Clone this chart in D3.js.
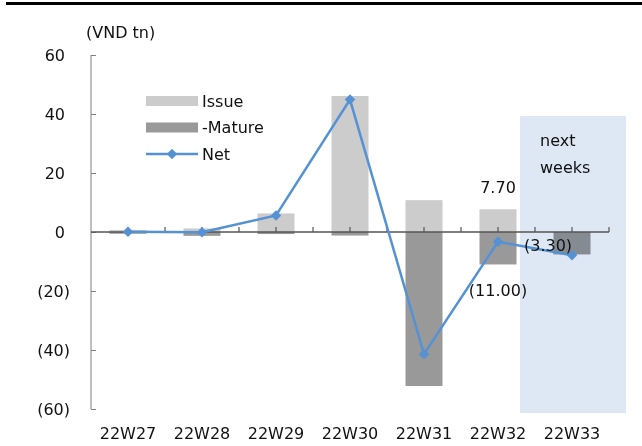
<!DOCTYPE html>
<html>
<head>
<meta charset="utf-8">
<script src="https://cdn.jsdelivr.net/npm/d3@7"></script>
<style>
  body { margin: 0; background: #fff; }
  text { font-family: "DejaVu Sans", sans-serif; font-size: 16px; fill: #111; }
</style>
</head>
<body>
<div id="chart"></div>
<script>
const weeks = ["22W27", "22W28", "22W29", "22W30", "22W31", "22W32", "22W33"];
const issue = [0.7, 1.2, 6.3, 46.1, 10.8, 7.7, 0];
const mature = [-0.6, -1.3, -0.7, -1.2, -52.2, -11.0, -7.6];
const net = [0.1, -0.1, 5.6, 44.9, -41.4, -3.3, -7.9];
const yTicks = [-60, -40, -20, 0, 20, 40, 60];
const forecastWeeks = ["22W33"];

const width = 642, height = 446;

const svg = d3.select("#chart")
  .append("svg")
  .attr("width", width)
  .attr("height", height);

// top rule
svg.append("rect")
  .attr("x", 6).attr("y", 2)
  .attr("width", 636).attr("height", 3)
  .attr("fill", "#000");

const x = d3.scaleBand()
  .domain(weeks)
  .range([91, 609]);

const y = d3.scaleLinear()
  .domain([-60, 60])
  .range([409, 55]);

const barW = x.bandwidth() / 2;
const cx = d => x(d) + x.bandwidth() / 2;

// bars
svg.selectAll(".issue")
  .data(weeks)
  .enter()
  .append("rect")
  .attr("class", "issue")
  .attr("x", d => cx(d) - barW / 2)
  .attr("width", barW)
  .attr("y", (d, i) => y(Math.max(0, issue[i])))
  .attr("height", (d, i) => Math.abs(y(issue[i]) - y(0)))
  .attr("fill", "#cccccc");

svg.selectAll(".mature")
  .data(weeks)
  .enter()
  .append("rect")
  .attr("class", "mature")
  .attr("x", d => cx(d) - barW / 2)
  .attr("width", barW)
  .attr("y", y(0))
  .attr("height", (d, i) => Math.abs(y(mature[i]) - y(0)))
  .attr("fill", "#999999");

// next weeks shade
const fx0 = x(forecastWeeks[0]) - 15;
svg.append("rect")
  .attr("x", fx0)
  .attr("y", 116)
  .attr("width", 626 - fx0)
  .attr("height", 297)
  .attr("fill", "#dde8f4")
  .style("mix-blend-mode", "multiply");

svg.append("text").attr("x", 540).attr("y", 146).text("next");
svg.append("text").attr("x", 540).attr("y", 173).text("weeks");

// y axis
const yAxis = d3.axisLeft(y)
  .tickValues(yTicks)
  .tickSize(-5)
  .tickPadding(0)
  .tickFormat(d => d < 0 ? `(${-d})` : `${d}`);

const gy = svg.append("g")
  .attr("transform", "translate(91,0)")
  .call(yAxis);
gy.select(".domain").attr("stroke", "#808080").attr("d", "M0,55V409");
gy.selectAll(".tick line").attr("stroke", "#808080");
gy.selectAll(".tick text")
  .attr("x", d => d < 0 ? -21 : -26)
  .attr("dy", "0.35em")
  .style("font-family", "DejaVu Sans")
  .style("font-size", "16px")
  .attr("fill", "#111");

svg.append("text")
  .attr("x", 86).attr("y", 38)
  .text("(VND tn)");

// x axis at zero
const halfTicks = [];
weeks.forEach(w => { halfTicks.push(x(w) + x.bandwidth() / 2, x(w) + x.bandwidth()); });
svg.append("g")
  .selectAll("line")
  .data(halfTicks)
  .enter()
  .append("line")
  .attr("x1", d => d).attr("x2", d => d)
  .attr("y1", y(0)).attr("y2", y(0) - 5)
  .attr("stroke", "#555")
  .attr("stroke-width", 1.2);

svg.append("line")
  .attr("x1", 91).attr("x2", 609)
  .attr("y1", y(0)).attr("y2", y(0))
  .attr("stroke", "#555")
  .attr("stroke-width", 1.5);

// x labels
svg.selectAll(".xlab")
  .data(weeks)
  .enter()
  .append("text")
  .attr("class", "xlab")
  .attr("x", d => cx(d))
  .attr("y", 439)
  .attr("text-anchor", "middle")
  .text(d => d);

// net line
const line = d3.line()
  .x((d, i) => cx(weeks[i]))
  .y(d => y(d));

svg.append("path")
  .datum(net)
  .attr("d", line)
  .attr("fill", "none")
  .attr("stroke", "#5592d4")
  .attr("stroke-width", 2.5);

const diamond = d3.symbol().type(d3.symbolDiamond2).size(70);
svg.selectAll(".dot")
  .data(net)
  .enter()
  .append("path")
  .attr("class", "dot")
  .attr("d", diamond)
  .attr("transform", (d, i) => `translate(${cx(weeks[i])},${y(d)})`)
  .attr("fill", "#5592d4");

// data labels for 22W32
const k = weeks.indexOf("22W32");
const fmt = v => v < 0 ? `(${(-v).toFixed(2)})` : v.toFixed(2);
svg.append("text")
  .attr("x", cx(weeks[k])).attr("y", y(issue[k]) - 16)
  .attr("text-anchor", "middle")
  .text(fmt(issue[k]));
svg.append("text")
  .attr("x", cx(weeks[k])).attr("y", y(mature[k]) + 32)
  .attr("text-anchor", "middle")
  .text(fmt(mature[k]));
svg.append("text")
  .attr("x", cx(weeks[k]) + 26).attr("y", y(net[k]) + 9)
  .text(fmt(net[k]));

// legend
const legend = [
  { name: "Issue", type: "bar", color: "#cccccc" },
  { name: "-Mature", type: "bar", color: "#999999" },
  { name: "Net", type: "line", color: "#5592d4" }
];
const lg = svg.selectAll(".lg")
  .data(legend)
  .enter()
  .append("g")
  .attr("transform", (d, i) => `translate(146,${101 + i * 26.5})`);

lg.filter(d => d.type === "bar")
  .append("rect")
  .attr("x", 0).attr("y", -5)
  .attr("width", 52).attr("height", 10)
  .attr("fill", d => d.color);

lg.filter(d => d.type === "line")
  .append("line")
  .attr("x1", 0).attr("x2", 52)
  .attr("stroke", d => d.color)
  .attr("stroke-width", 2.5);
lg.filter(d => d.type === "line")
  .append("path")
  .attr("d", diamond)
  .attr("transform", "translate(26,0)")
  .attr("fill", d => d.color);

lg.append("text")
  .attr("x", 56).attr("dy", "0.35em")
  .text(d => d.name);
</script>
</body>
</html>
